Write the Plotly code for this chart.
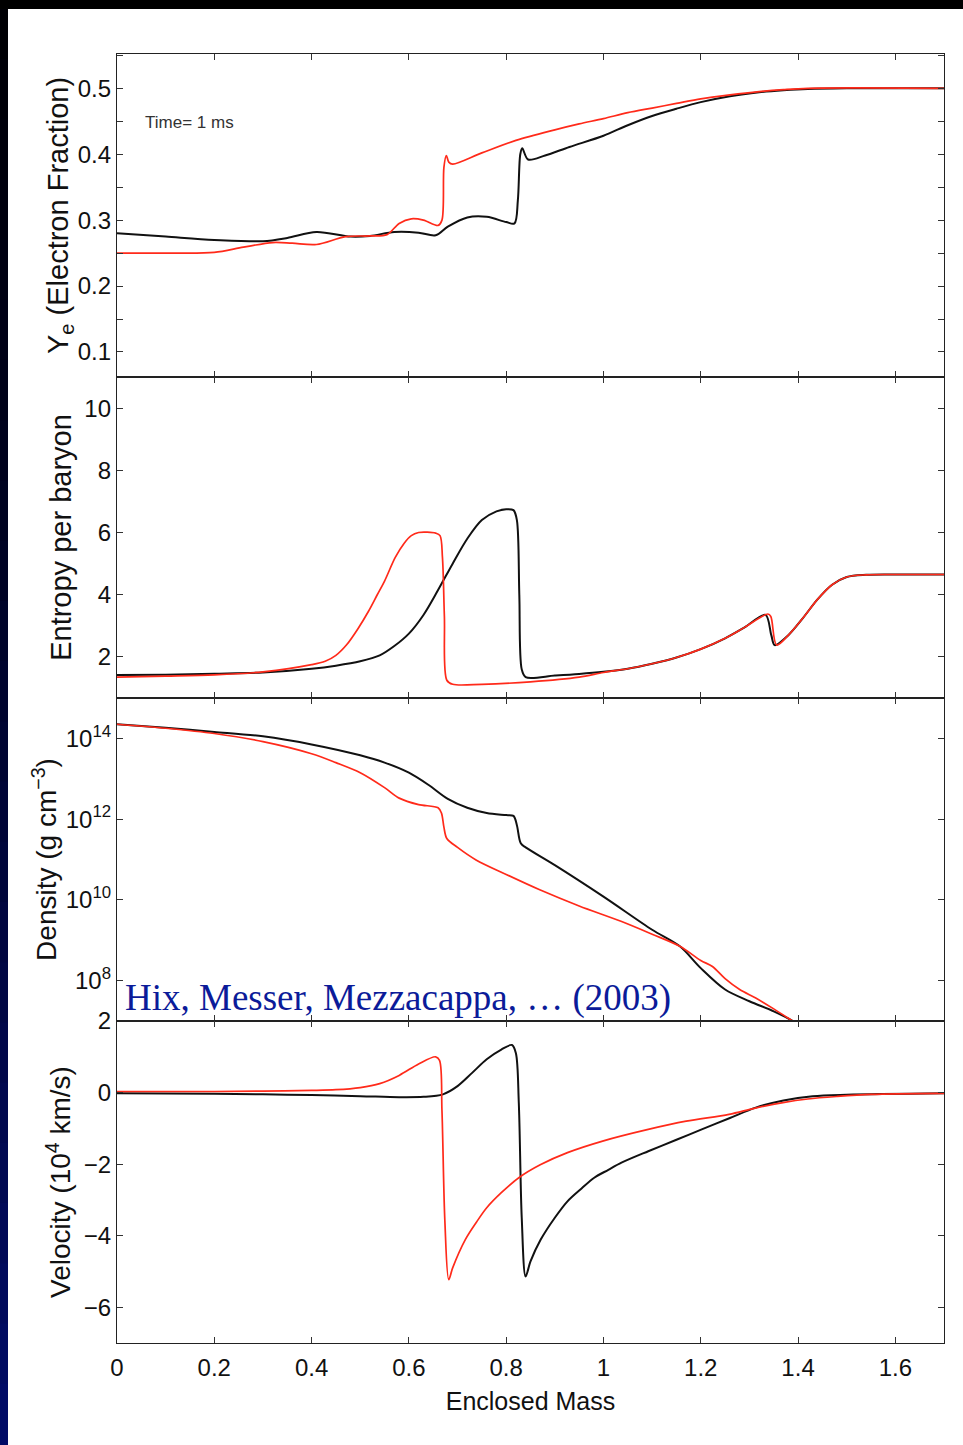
import plotly.graph_objects as go
from plotly.subplots import make_subplots

# ---------------- data ----------------
ye_black_m = [0.00, 0.10, 0.20, 0.30, 0.35, 0.41, 0.48, 0.52, 0.57, 0.62, 0.655, 0.68, 0.72, 0.76, 0.80, 0.817,
              0.824, 0.829, 0.833, 0.845, 0.88, 0.93, 1.00, 1.05, 1.10, 1.15, 1.20, 1.26, 1.32, 1.37, 1.42, 1.50, 1.70]
ye_black = [0.280, 0.275, 0.270, 0.268, 0.273, 0.282, 0.275, 0.276, 0.282, 0.281, 0.277, 0.290, 0.304, 0.305, 0.297, 0.295,
            0.330, 0.400, 0.409, 0.392, 0.398, 0.411, 0.428, 0.444, 0.458, 0.469, 0.479, 0.488, 0.494, 0.497, 0.499, 0.500, 0.500]

ye_red_m = [0.00, 0.10, 0.20, 0.26, 0.32, 0.36, 0.41, 0.47, 0.52, 0.555, 0.58, 0.605, 0.63, 0.66, 0.668, 0.672, 0.677,
            0.682, 0.69, 0.75, 0.82, 0.90, 0.95, 1.00, 1.05, 1.10, 1.15, 1.20, 1.26, 1.32, 1.37, 1.42, 1.70]
ye_red = [0.250, 0.250, 0.251, 0.259, 0.266, 0.265, 0.263, 0.275, 0.276, 0.278, 0.295, 0.302, 0.300, 0.292, 0.300, 0.380, 0.398,
          0.388, 0.385, 0.402, 0.421, 0.437, 0.446, 0.454, 0.463, 0.470, 0.477, 0.484, 0.490, 0.495, 0.498, 0.500, 0.500]

s_black_m = [0.00, 0.10, 0.20, 0.30, 0.40, 0.45, 0.50, 0.54, 0.57, 0.60, 0.63, 0.66, 0.69, 0.72, 0.75, 0.78, 0.80, 0.815,
             0.822, 0.827, 0.832, 0.84, 0.90, 0.95, 1.00, 1.05, 1.10, 1.15, 1.20, 1.25, 1.29, 1.333, 1.345, 1.352,
             1.38, 1.41, 1.44, 1.47, 1.50, 1.54, 1.60, 1.70]
s_black = [1.42, 1.43, 1.46, 1.50, 1.62, 1.72, 1.86, 2.05, 2.35, 2.75, 3.35, 4.15, 5.00, 5.80, 6.40, 6.68, 6.75, 6.72,
           6.40, 4.00, 1.60, 1.35, 1.40, 1.45, 1.52, 1.62, 1.78, 1.98, 2.25, 2.60, 2.95, 3.35, 2.70, 2.38,
           2.70, 3.25, 3.85, 4.32, 4.57, 4.64, 4.65, 4.65]

s_red_m = [0.00, 0.10, 0.20, 0.30, 0.40, 0.428, 0.45, 0.472, 0.495, 0.517, 0.535, 0.55, 0.572, 0.59, 0.605, 0.62, 0.638,
           0.655, 0.664, 0.669, 0.673, 0.678, 0.69, 0.75, 0.85, 0.95, 1.00, 1.05, 1.10, 1.15, 1.20, 1.25, 1.29, 1.338,
           1.344, 1.356, 1.38, 1.41, 1.44, 1.47, 1.50, 1.54, 1.60, 1.70]
s_red = [1.35, 1.38, 1.42, 1.52, 1.75, 1.86, 2.05, 2.39, 2.90, 3.47, 4.00, 4.44, 5.20, 5.65, 5.90, 6.00, 6.01,
         5.98, 5.90, 5.20, 3.30, 1.25, 1.12, 1.12, 1.20, 1.35, 1.50, 1.62, 1.78, 1.98, 2.25, 2.60, 2.95, 3.38,
         3.30, 2.38, 2.70, 3.25, 3.85, 4.32, 4.57, 4.64, 4.65, 4.65]

rho_black_m = [0.00, 0.10, 0.20, 0.30, 0.40, 0.50, 0.55, 0.60, 0.64, 0.68, 0.72, 0.76, 0.80, 0.815, 0.822, 0.83, 0.84,
               0.90, 1.00, 1.10, 1.157, 1.20, 1.25, 1.30, 1.35, 1.385, 1.41]
rho_black_log = [14.35, 14.26, 14.16, 14.05, 13.85, 13.58, 13.40, 13.15, 12.85, 12.50, 12.28, 12.15, 12.10, 12.08, 11.85,
                 11.40, 11.30, 10.86, 10.08, 9.26, 8.85, 8.31, 7.78, 7.49, 7.24, 7.03, 6.85]

rho_red_m = [0.00, 0.10, 0.20, 0.30, 0.40, 0.45, 0.50, 0.55, 0.58, 0.62, 0.66, 0.667, 0.672, 0.678, 0.70, 0.738, 0.80,
             0.869, 0.95, 1.036, 1.10, 1.157, 1.20, 1.224, 1.25, 1.28, 1.313, 1.35, 1.385, 1.41]
rho_red_log = [14.35, 14.25, 14.12, 13.92, 13.62, 13.40, 13.15, 12.78, 12.52, 12.36, 12.28, 12.15, 11.80, 11.52, 11.30,
               10.99, 10.63, 10.25, 9.85, 9.47, 9.15, 8.85, 8.50, 8.35, 8.05, 7.78, 7.57, 7.30, 7.03, 6.85]

v_black_m = [0.00, 0.20, 0.30, 0.40, 0.50, 0.58, 0.63, 0.67, 0.70, 0.73, 0.76, 0.79, 0.812, 0.82, 0.826, 0.832, 0.840,
             0.85, 0.871, 0.90, 0.926, 0.955, 0.981, 1.01, 1.037, 1.092, 1.15, 1.202, 1.26, 1.313, 1.37, 1.43, 1.50, 1.70]
v_black = [-0.02, -0.03, -0.05, -0.07, -0.10, -0.13, -0.12, -0.05, 0.18, 0.55, 0.93, 1.20, 1.33, 1.10, -0.30, -3.50, -5.14,
           -4.72, -4.11, -3.50, -3.04, -2.68, -2.38, -2.16, -1.96, -1.64, -1.32, -1.03, -0.71, -0.42, -0.22, -0.10, -0.06, -0.02]

v_red_m = [0.00, 0.20, 0.30, 0.40, 0.45, 0.50, 0.54, 0.58, 0.62, 0.655, 0.663, 0.668, 0.674, 0.682, 0.69, 0.716, 0.74,
           0.76, 0.79, 0.826, 0.87, 0.926, 1.00, 1.092, 1.17, 1.258, 1.31, 1.369, 1.42, 1.479, 1.55, 1.70]
v_red = [0.03, 0.03, 0.04, 0.06, 0.08, 0.14, 0.25, 0.48, 0.80, 1.00, 0.90, -0.50, -3.60, -5.23, -4.90, -4.11, -3.60,
         -3.22, -2.80, -2.38, -2.02, -1.68, -1.35, -1.03, -0.80, -0.61, -0.44, -0.28, -0.18, -0.11, -0.05, -0.02]

x_ticks = [0, 0.2, 0.4, 0.6, 0.8, 1, 1.2, 1.4, 1.6]
x_tick_text = ["0", "0.2", "0.4", "0.6", "0.8", "1", "1.2", "1.4", "1.6"]
ye_ticks = [0.1, 0.2, 0.3, 0.4, 0.5]
s_ticks = [2, 4, 6, 8, 10]
rho_ticks = [1e8, 1e10, 1e12, 1e14]
rho_tick_text = ["10<sup>8</sup>", "10<sup>10</sup>", "10<sup>12</sup>", "10<sup>14</sup>"]
v_ticks = [-6, -4, -2, 0, 2]
v_tick_text = ["\u22126", "\u22124", "\u22122", "0", "2"]

rho_black = [10 ** v for v in rho_black_log]
rho_red = [10 ** v for v in rho_red_log]

# ---------------- figure ----------------
FONT = "Liberation Sans, Arial, sans-serif"
RED = "#FF2A1A"
BLACK = "#111111"

fig = make_subplots(rows=4, cols=1, shared_xaxes=True, vertical_spacing=0)

series = [
    (1, ye_black_m, ye_black, ye_red_m, ye_red),
    (2, s_black_m, s_black, s_red_m, s_red),
    (3, rho_black_m, rho_black, rho_red_m, rho_red),
    (4, v_black_m, v_black, v_red_m, v_red),
]
for row, bm, by, rm, ry in series:
    fig.add_trace(go.Scatter(x=bm, y=by, mode="lines", line=dict(color=BLACK, width=2, shape="spline", smoothing=0.9),
                             showlegend=False), row=row, col=1)
    fig.add_trace(go.Scatter(x=rm, y=ry, mode="lines", line=dict(color=RED, width=1.7, shape="spline", smoothing=0.9),
                             showlegend=False), row=row, col=1)

axis_common = dict(showline=True, linecolor="#222", linewidth=1.3, mirror="ticks", ticks="inside",
                   ticklen=6, tickcolor="#333", showgrid=False, zeroline=False,
                   tickfont=dict(family=FONT, size=24, color="#111"))

for r in range(1, 5):
    fig.update_xaxes(range=[0, 1.7], tickvals=x_ticks, ticktext=x_tick_text, row=r, col=1, **axis_common)
fig.update_xaxes(title=dict(text="Enclosed Mass", font=dict(family=FONT, size=25, color="#111"), standoff=12),
                 ticklabelstandoff=3, row=4, col=1)

fig.update_yaxes(range=[0.062, 0.552], tickvals=ye_ticks, ticktext=["0.1", "0.2", "0.3", "0.4", "0.5"],
                 minor=dict(ticks="inside", ticklen=6, tickcolor="#333", dtick=0.05, tick0=0),
                 title=dict(text="Y<sub>e</sub> (Electron Fraction)", font=dict(family=FONT, size=29, color="#111"),
                            standoff=0),
                 row=1, col=1, **axis_common)
fig.update_yaxes(range=[0.68, 11], tickvals=s_ticks,
                 title=dict(text="Entropy per baryon", font=dict(family=FONT, size=29, color="#111"), standoff=4),
                 row=2, col=1, **axis_common)
fig.update_yaxes(type="log", range=[7, 15], tickvals=rho_ticks, ticktext=rho_tick_text,
                 title=dict(text="Density (g cm<sup>\u22123</sup>)", font=dict(family=FONT, size=28, color="#111"),
                            standoff=0),
                 row=3, col=1, **axis_common)
fig.update_yaxes(range=[-7, 2], tickvals=v_ticks, ticktext=v_tick_text,
                 title=dict(text="Velocity (10<sup>4</sup> km/s)", font=dict(family=FONT, size=28, color="#111"),
                            standoff=4),
                 row=4, col=1, **axis_common)

# panel domains (stacked quarters)
fig.update_layout(
    yaxis=dict(domain=[0.7494, 1.0]),
    yaxis2=dict(domain=[0.5004, 0.7494]),
    yaxis3=dict(domain=[0.2498, 0.5004]),
    yaxis4=dict(domain=[0.0, 0.2498]),
)

# background frame: dark gradient strip on top and left, white page elsewhere
shapes = []
n = 24
x_left0, x_left1 = -117 / 827, -109 / 827
y_top, y_bot = 1 + 54 / 1289, -102 / 1289
for i in range(n):
    t0 = i / n
    t1 = (i + 1) / n
    tm = (t0 + t1) / 2
    c = (int(0 + 2 * tm ** 1.5), int(0 + 12 * tm ** 1.3), int(5 + 100 * tm ** 1.2))
    ya = y_top - (y_top - y_bot) * t0
    yb = y_top - (y_top - y_bot) * t1
    shapes.append(dict(type="rect", xref="paper", yref="paper", x0=x_left0, x1=x_left1, y0=yb, y1=ya + 0.001,
                       fillcolor="rgb(%d,%d,%d)" % c, line=dict(width=0), layer="below"))
shapes.append(dict(type="rect", xref="paper", yref="paper", x0=x_left0, x1=1 + 19 / 827, y0=1 + 45 / 1289, y1=y_top,
                   fillcolor="#000000", line=dict(width=0), layer="below"))
fig.update_layout(shapes=shapes)

fig.add_annotation(text="Time= 1 ms", xref="paper", yref="paper", x=(143 - 117) / 827, y=(1343 - 122) / 1289,
                   xanchor="left", yanchor="middle", showarrow=False,
                   font=dict(family=FONT, size=17, color="#333"))
fig.add_annotation(text="Hix, Messer, Mezzacappa, \u2026 (2003)", xref="paper", yref="paper",
                   x=(123 - 117) / 827, y=(1343 - 998) / 1289, xanchor="left", yanchor="middle", showarrow=False,
                   font=dict(family="Liberation Serif, Times New Roman, serif", size=37, color="#0B1B99"))

fig.update_layout(
    width=963, height=1445,
    margin=dict(l=117, r=19, t=54, b=102),
    paper_bgcolor="white", plot_bgcolor="white",
    showlegend=False,
)

fig.write_html("out.html")
